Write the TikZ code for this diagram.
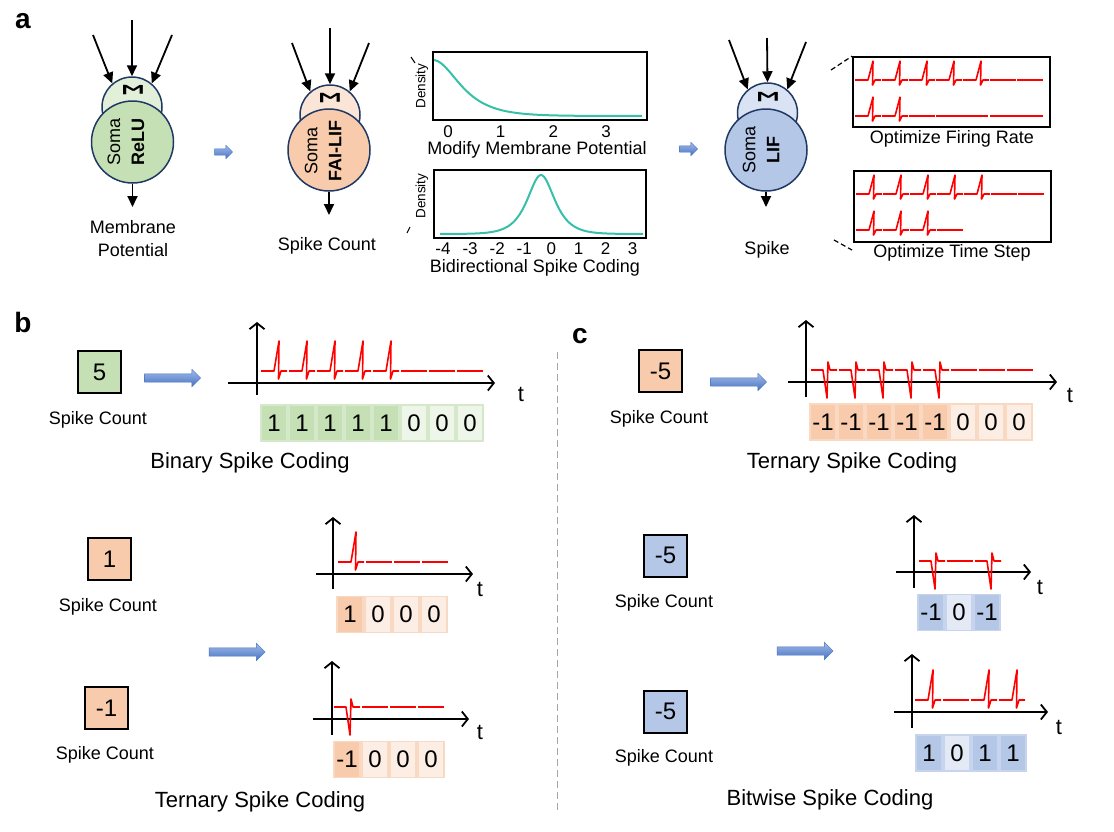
\documentclass[tikz,border=0pt]{standalone}
\usepackage{fontspec}
\setmainfont{Liberation Sans}
\usepackage{xcolor}
\usetikzlibrary{arrows.meta}
\usetikzlibrary{backgrounds,positioning,calc}
\usetikzlibrary{shapes,shapes.arrows}
\pgfdeclarelayer{edgelayer}
\pgfdeclarelayer{nodelayer}
\pgfsetlayers{background,edgelayer,nodelayer,main}
\definecolor{somaG}{HTML}{C5E0B4}
\definecolor{sumG}{HTML}{E2F0D9}
\definecolor{somaO}{HTML}{F8CBAD}
\definecolor{sumO}{HTML}{FBE5D6}
\definecolor{somaB}{HTML}{B4C7E7}
\definecolor{sumB}{HTML}{DAE3F3}
\definecolor{rim}{HTML}{1F3864}
\definecolor{curve}{HTML}{36C0AA}
\definecolor{arrowblue}{HTML}{4472C4}
\definecolor{arrowlight}{HTML}{A4BBE6}
\definecolor{rimG}{HTML}{D5E8CA}
\definecolor{offG}{HTML}{EEF6EA}
\definecolor{rimO}{HTML}{FAD9C3}
\definecolor{offO}{HTML}{FCEEE4}
\definecolor{rimB}{HTML}{C6D4EE}
\definecolor{offB}{HTML}{E3EAF6}
\tikzstyle{none}=[inner sep=0mm]
\tikzstyle{sum}=[circle,draw=rim,line width=1.5pt,minimum size=60pt,inner sep=0pt]
\tikzstyle{soma}=[circle,draw=rim,line width=1.5pt,minimum size=82pt,inner sep=0pt]
\tikzstyle{sigma}=[rotate=-90,inner sep=0pt,font=\fontsize{36}{36}\selectfont\bfseries]
\tikzstyle{somatext}=[rotate=90,align=center,inner sep=0pt,font=\fontsize{18}{24}\selectfont]
\tikzstyle{lbl}=[inner sep=0pt,align=center,font=\fontsize{18}{23}\selectfont]
\tikzstyle{ttl}=[inner sep=0pt,font=\fontsize{22}{26}\selectfont]
\tikzstyle{tick}=[inner sep=0pt,font=\fontsize{17}{20}\selectfont]
\tikzstyle{dens}=[rotate=90,inner sep=0pt,font=\fontsize{13.5}{15}\selectfont]
\tikzstyle{panel}=[inner sep=0pt,font=\fontsize{28}{30}\selectfont\bfseries]
\tikzstyle{inedge}=[line width=1.8pt,-{Triangle[length=11pt,width=10pt]}]
\tikzstyle{axis}=[line width=1.8pt,-{Straight Barb[length=6pt,width=15pt]}]
\tikzstyle{spk}=[red,line width=1.6pt,line join=round]
\tikzstyle{plotbox}=[draw,line width=1.8pt,inner sep=0pt]
\tikzstyle{callout}=[line width=1.2pt,dash pattern=on 5pt off 3pt]
\tikzstyle{valbox}=[draw,line width=2pt,minimum width=43pt,minimum height=42pt,inner sep=0pt,font=\fontsize{24}{24}\selectfont]
\tikzstyle{cell}=[line width=1.5pt,minimum width=26pt,minimum height=36pt,inner sep=0pt,font=\fontsize{24}{24}\selectfont]
\tikzstyle{gOn}=[cell,fill=somaG,draw=rimG]
\tikzstyle{gOff}=[cell,fill=offG,draw=rimG]
\tikzstyle{oOn}=[cell,fill=somaO,draw=rimO]
\tikzstyle{oOff}=[cell,fill=offO,draw=rimO]
\tikzstyle{bOn}=[cell,fill=somaB,draw=rimB]
\tikzstyle{bOff}=[cell,fill=offB,draw=rimB]
\tikzstyle{bigarrow}=[single arrow,top color=arrowlight,bottom color=arrowblue,draw=arrowblue,line width=0.4pt,inner sep=4pt,single arrow head extend=4.5pt,minimum height=56pt]
\tikzstyle{smallarrow}=[single arrow,top color=arrowlight,bottom color=arrowblue,draw=arrowblue,line width=0.4pt,inner sep=3pt,single arrow head extend=3.5pt,minimum height=18pt]
% spikes: start x, baseline y (, height)
\newcommand{\upspike}[3]{\draw[style=spk] (#1,#2) -- ++(13,0) -- ++(5,{-30*#3}) -- ++(-0.5,{38*#3}) -- ++(2.5,{-8*#3}) -- ++(6,0);}
\newcommand{\downspike}[2]{\draw[style=spk] (#1,#2) -- ++(12,0) -- ++(4,28) -- ++(1,-36) -- ++(2,8) -- ++(7,0);}
\newcommand{\flatspike}[3]{\draw[style=spk] (#1,#2) -- ++(#3,0);}

\begin{document}
\begin{tikzpicture}[x=1pt,y=-1pt]
	\useasboundingbox (0,0) rectangle (1114,831);
	\begin{pgfonlayer}{nodelayer}
		% a
		\node [style=panel] (pa) at (23,21) {a};
		\node [style=sum,fill=sumG] (sum1) at (132,107) {};
		\node [style=soma,fill=somaG] (soma1) at (132.5,142) {};
		\node [style=sigma] (sg1) at (133,90) {\scalebox{0.5}[0.8]{Σ}};
		\node [style=somatext] (st1) at (126,142) {Soma\\\textbf{ReLU}};
		\node [style=lbl] (l1) at (133,239) {Membrane\\Potential};
		\coordinate (i1a) at (93,35);
		\coordinate (i1b) at (132,20);
		\coordinate (i1c) at (172,35);
		\coordinate (o1) at (132.5,207);
		\node [style=smallarrow] (sa1) at (222,152) {};
		\node [style=sum,fill=sumO] (sum2) at (330,115) {};
		\node [style=soma,fill=somaO] (soma2) at (329,150) {};
		\node [style=sigma] (sg2) at (330,98) {\scalebox{0.5}[0.8]{Σ}};
		\node [style=somatext] (st2) at (323,151) {Soma\\\textbf{FAI-LIF}};
		\node [style=lbl] (l2) at (327,246) {Spike Count};
		\coordinate (i2a) at (292,43);
		\coordinate (i2b) at (330,28);
		\coordinate (i2c) at (369,43);
		\coordinate (o2) at (329,215);
		\node [style=plotbox,minimum width=214,minimum height=68] (mp) at (540,86) {};
		\foreach \t [count=\i from 0] in {0,1,2,3}
			\node [style=tick] (mpt\i) at ({448+52.7*\i},132) {\t};
		\node [style=dens] (mpd) at (422,86) {Density};
		\node [style=lbl] (mpl) at (537,150) {Modify Membrane Potential};
		\node [style=plotbox,minimum width=212,minimum height=68] (bs) at (540,204) {};
		\foreach \t [count=\i from 0] in {-4,-3,-2,-1,0,1,2,3}
			\node [style=tick] (bst\i) at ({443+27.1*\i},249) {\t};
		\node [style=dens] (bsd) at (422,196) {Density};
		\node [style=lbl] (bsl) at (535,268) {Bidirectional Spike Coding};
		\node [style=smallarrow] (sa2) at (687,149) {};
		\node [style=sum,fill=sumB] (sum3) at (767.5,113) {};
		\node [style=soma,fill=somaB] (soma3) at (766,150) {};
		\node [style=sigma] (sg3) at (768,97) {\scalebox{0.5}[0.8]{Σ}};
		\node [style=somatext] (st3) at (761,150) {Soma\\\textbf{LIF}};
		\node [style=lbl] (l3) at (767,250) {Spike};
		\coordinate (i3a) at (729,40);
		\coordinate (i3b) at (767,38);
		\coordinate (i3c) at (806,42);
		\coordinate (o3) at (766,207);
		\node [style=plotbox,minimum width=197,minimum height=70] (fr) at (951.5,92) {};
		\node [style=lbl] (frl) at (952,139) {Optimize Firing Rate};
		\node [style=plotbox,minimum width=197,minimum height=71] (ts) at (952.5,206.5) {};
		\node [style=lbl] (tsl) at (952,253) {Optimize Time Step};
		\coordinate (cl1) at (831,70);
		\coordinate (cl2) at (834,240);
		\coordinate (cl2e) at (852,250);
		% b
		\node [style=panel] (pb) at (23,322) {b};
		\node [style=valbox,fill=somaG] (v5) at (99.5,372) {5};
		\node [style=lbl] (v5l) at (98,420) {Spike Count};
		\node [style=bigarrow] (ba1) at (170.5,378) {};
		\node [style=ttl] (bt1) at (521,394) {t};
		\foreach \v/\s [count=\i from 0] in {1/On,1/On,1/On,1/On,1/On,0/Off,0/Off,0/Off}
			\node [style=g\s] (bc\i) at ({274+28*\i},423) {\v};
		\node [style=ttl] (btl) at (250,463) {Binary Spike Coding};
		\node [style=valbox,fill=somaO] (v1) at (109.5,559) {1};
		\node [style=lbl] (v1l) at (108,607) {Spike Count};
		\node [style=valbox,fill=somaO] (vm1) at (106.5,708) {-1};
		\node [style=lbl] (vm1l) at (105,755) {Spike Count};
		\node [style=bigarrow] (ba2) at (235,652) {};
		\node [style=ttl] (bt2) at (480,589) {t};
		\node [style=ttl] (bt3) at (480,732) {t};
		\foreach \v/\s [count=\i from 0] in {1/On,0/Off,0/Off,0/Off}
			\node [style=o\s] (pc\i) at ({350+28*\i},614.5) {\v};
		\foreach \v/\s [count=\i from 0] in {-1/On,0/Off,0/Off,0/Off}
			\node [style=o\s] (nc\i) at ({347+28*\i},759.5) {\v};
		\node [style=ttl] (btl2) at (260,802) {Ternary Spike Coding};
		% c
		\node [style=panel] (pc) at (580,336) {c};
		\node [style=valbox,fill=somaO] (vm5) at (660.5,371) {-5};
		\node [style=lbl] (vm5l) at (659,419) {Spike Count};
		\node [style=bigarrow] (ba3) at (736.5,382) {};
		\node [style=ttl] (ct1) at (1070,395) {t};
		\foreach \v/\s [count=\i from 0] in {-1/On,-1/On,-1/On,-1/On,-1/On,0/Off,0/Off,0/Off}
			\node [style=o\s] (tc\i) at ({823+28*\i},422) {\v};
		\node [style=ttl] (ctl) at (852,463) {Ternary Spike Coding};
		\node [style=valbox,fill=somaB] (wa) at (665.5,555.5) {-5};
		\node [style=lbl] (wal) at (664,603) {Spike Count};
		\node [style=valbox,fill=somaB] (wb) at (665.5,711.5) {-5};
		\node [style=lbl] (wbl) at (664,758) {Spike Count};
		\node [style=bigarrow] (ba4) at (803,651) {};
		\node [style=ttl] (ct2) at (1040,587) {t};
		\node [style=ttl] (ct3) at (1059,727) {t};
		\foreach \v/\s [count=\i from 0] in {-1/On,0/Off,-1/On}
			\node [style=b\s] (wac\i) at ({931+28*\i},612.5) {\v};
		\foreach \v/\s [count=\i from 0] in {1/On,0/Off,1/On,1/On}
			\node [style=b\s] (wbc\i) at ({929+28*\i},753) {\v};
		\node [style=ttl] (ctl2) at (830,800) {Bitwise Spike Coding};
		% axes ends
		\coordinate (bya) at (257,395); \coordinate (byb) at (257,322);
		\coordinate (bxa) at (228,383); \coordinate (bxb) at (495,383);
		\coordinate (pya) at (333,589); \coordinate (pyb) at (333,517);
		\coordinate (pxa) at (316,574); \coordinate (pxb) at (473,574);
		\coordinate (nya) at (332,735); \coordinate (nyb) at (332,661);
		\coordinate (nxa) at (313,719); \coordinate (nxb) at (469,719);
		\coordinate (cya) at (806,397); \coordinate (cyb) at (806,320);
		\coordinate (cxa) at (788,382); \coordinate (cxb) at (1057,382);
		\coordinate (aya) at (914,588); \coordinate (ayb) at (914,515);
		\coordinate (axa) at (896,572); \coordinate (axb) at (1031,572);
		\coordinate (wya) at (912,728); \coordinate (wyb) at (912,654);
		\coordinate (wxa) at (894,712); \coordinate (wxb) at (1048,712);
		\coordinate (dv1) at (557.5,352); \coordinate (dv2) at (557.5,812);
	\end{pgfonlayer}
	\begin{pgfonlayer}{edgelayer}
		\draw [style=inedge] (i1a) -- (sum1.130);
		\draw [style=inedge] (i1b) -- (sum1.north);
		\draw [style=inedge] (i1c) -- (sum1.50);
		\draw [style=inedge] (soma1) -- (o1);
		\draw [style=inedge] (i2a) -- (sum2.130);
		\draw [style=inedge] (i2b) -- (sum2.north);
		\draw [style=inedge] (i2c) -- (sum2.50);
		\draw [style=inedge] (soma2) -- (o2);
		\draw [style=inedge] (i3a) -- (sum3.130);
		\draw [style=inedge] (i3b) -- (sum3.north);
		\draw [style=inedge] (i3c) -- (sum3.50);
		\draw [style=inedge] (soma3) -- (o3);
		\draw [curve,line width=2pt] plot[domain=433:642,samples=90] (\x,{116-56/cosh((\x-433)/23.2)});
		\draw [curve,line width=2pt] plot[domain=440:643,samples=120] (\x,{234-59/cosh((\x-541)/12.1)});
		\draw [line width=1pt] (411,57) -- (415,63);
		\draw [line width=1pt] (407,233) -- (410,227);
		\draw [style=callout] (cl1) -- (fr.north west);
		\draw [style=callout] (cl2) -- (cl2e);
		\foreach \k in {0,...,4} {\upspike{855+27*\k}{80}{0.63}}
		\flatspike{990}{80}{26} \flatspike{1017}{80}{26}
		\upspike{855}{116}{0.63} \upspike{882}{116}{0.63}
		\flatspike{909}{116}{26} \flatspike{936}{116}{52} \flatspike{990}{116}{53}
		\foreach \k in {0,...,4} {\upspike{856+27*\k}{194}{0.63}}
		\flatspike{991}{194}{26} \flatspike{1018}{194}{26}
		\foreach \k in {0,1,2} {\upspike{856+27*\k}{230}{0.63}}
		\flatspike{937}{230}{26}
		% b
		\draw [style=axis] (bya) -- (byb);
		\draw [style=axis] (bxa) -- (bxb);
		\foreach \k in {0,...,4} {\upspike{261+28*\k}{371}{1}}
		\foreach \k in {5,6,7} {\flatspike{261+28*\k}{371}{26}}
		\draw [style=axis] (pya) -- (pyb);
		\draw [style=axis] (pxa) -- (pxb);
		\upspike{338}{562}{1}
		\foreach \k in {1,2,3} {\flatspike{338+28*\k}{562}{26}}
		\draw [style=axis] (nya) -- (nyb);
		\draw [style=axis] (nxa) -- (nxb);
		\downspike{334}{707}
		\foreach \k in {1,2,3} {\flatspike{334+28*\k}{707}{26}}
		\draw [gray!70,line width=1.5pt,dash pattern=on 7pt off 4pt] (dv1) -- (dv2);
		% c
		\draw [style=axis] (cya) -- (cyb);
		\draw [style=axis] (cxa) -- (cxb);
		\foreach \k in {0,...,4} {\downspike{811+28*\k}{370}}
		\foreach \k in {5,6,7} {\flatspike{811+28*\k}{370}{26}}
		\draw [style=axis] (aya) -- (ayb);
		\draw [style=axis] (axa) -- (axb);
		\downspike{919}{561} \flatspike{947}{561}{26} \downspike{975}{561}
		\draw [style=axis] (wya) -- (wyb);
		\draw [style=axis] (wxa) -- (wxb);
		\upspike{915}{700}{1} \flatspike{943}{700}{26}
		\upspike{971}{700}{1} \upspike{999}{700}{1}
	\end{pgfonlayer}
\end{tikzpicture}
\end{document}
